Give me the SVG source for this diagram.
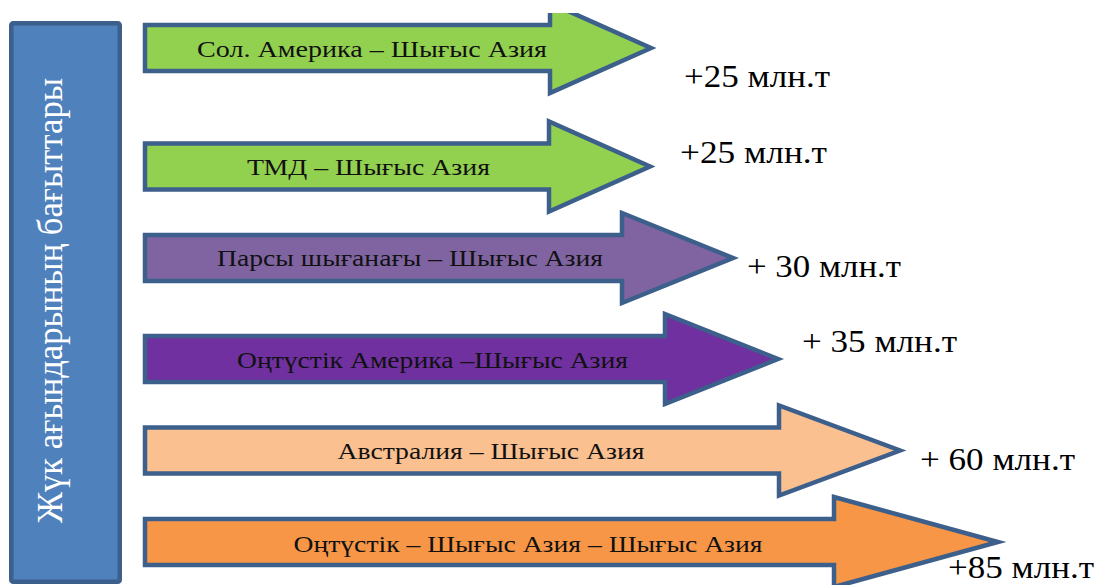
<svg xmlns="http://www.w3.org/2000/svg" width="1098" height="585" viewBox="0 0 1098 585" font-family="'Liberation Serif', 'DejaVu Serif', serif">
  <style>
    .arrow { stroke: #3D5F8B; stroke-width: 4.5; stroke-linejoin: miter; }
    .lbl { font-size: 24px; fill: #111111; text-anchor: middle; }
    .val { font-size: 31px; fill: #000000; }
    .side { font-size: 35px; fill: #FFFFFF; text-anchor: middle; }
  </style>
  <defs>
    <clipPath id="topclip"><rect x="0" y="13" width="1098" height="572"/></clipPath>
  </defs>
  <rect x="0" y="0" width="1098" height="585" fill="#FFFFFF"/>

  <g id="side-box">
    <rect x="11.25" y="23.25" width="108.5" height="558.5" rx="2" fill="#4F81BD" stroke="#3D5F8B" stroke-width="4.5"/>
    <text class="side" transform="translate(62,300.5) rotate(-90)" textLength="445" lengthAdjust="spacingAndGlyphs">Жүк ағындарының бағыттары</text>
  </g>

  <g id="connectors">
    <g id="arrow1" clip-path="url(#topclip)">
      <polygon class="arrow" fill="#92D050" points="145,25 550,25 550,3 651,48 550,93 550,71 145,71"/>
      <text class="lbl" x="372" y="57" font-size="25" textLength="350" lengthAdjust="spacingAndGlyphs">Сол. Америка – Шығыс Азия</text>
    </g>
    <g id="arrow2">
      <polygon class="arrow" fill="#92D050" points="145,143.5 549,143.5 549,121.5 650,166.5 549,211.5 549,189.5 145,189.5"/>
      <text class="lbl" x="368.5" y="175" font-size="25" textLength="243" lengthAdjust="spacingAndGlyphs">ТМД – Шығыс Азия</text>
    </g>
    <g id="arrow3">
      <polygon class="arrow" fill="#8064A2" points="145,235 622,235 622,213 733,258 622,303 622,281 145,281"/>
      <text class="lbl" x="410" y="266" textLength="386" lengthAdjust="spacingAndGlyphs">Парсы шығанағы – Шығыс Азия</text>
    </g>
    <g id="arrow4">
      <polygon class="arrow" fill="#7030A0" points="145,336 665,336 665,314 778,359 665,404 665,382 145,382"/>
      <text class="lbl" x="432.5" y="368" textLength="391" lengthAdjust="spacingAndGlyphs">Оңтүстік Америка –Шығыс Азия</text>
    </g>
    <g id="arrow5">
      <polygon class="arrow" fill="#FAC090" points="145,427.5 779,427.5 779,405.5 900,450.5 779,495.5 779,473.5 145,473.5"/>
      <text class="lbl" x="491" y="459" textLength="307" lengthAdjust="spacingAndGlyphs">Австралия – Шығыс Азия</text>
    </g>
    <g id="arrow6">
      <polygon class="arrow" fill="#F79646" points="145,519 834,519 834,497 998,542 834,587 834,565 145,565"/>
      <text class="lbl" x="528" y="552" font-size="25" textLength="469" lengthAdjust="spacingAndGlyphs">Оңтүстік – Шығыс Азия – Шығыс Азия</text>
    </g>
  </g>

  <g id="values">
    <text class="val" x="684" y="87" textLength="146" lengthAdjust="spacingAndGlyphs">+25 млн.т</text>
    <text class="val" x="680" y="163" textLength="147" lengthAdjust="spacingAndGlyphs">+25 млн.т</text>
    <text class="val" x="747" y="277" textLength="154" lengthAdjust="spacingAndGlyphs">+ 30 млн.т</text>
    <text class="val" x="802" y="352" textLength="155" lengthAdjust="spacingAndGlyphs">+ 35 млн.т</text>
    <text class="val" x="920" y="470" textLength="155" lengthAdjust="spacingAndGlyphs">+ 60 млн.т</text>
    <text class="val" x="948" y="578" font-size="30" textLength="146" lengthAdjust="spacingAndGlyphs">+85 млн.т</text>
  </g>
</svg>
